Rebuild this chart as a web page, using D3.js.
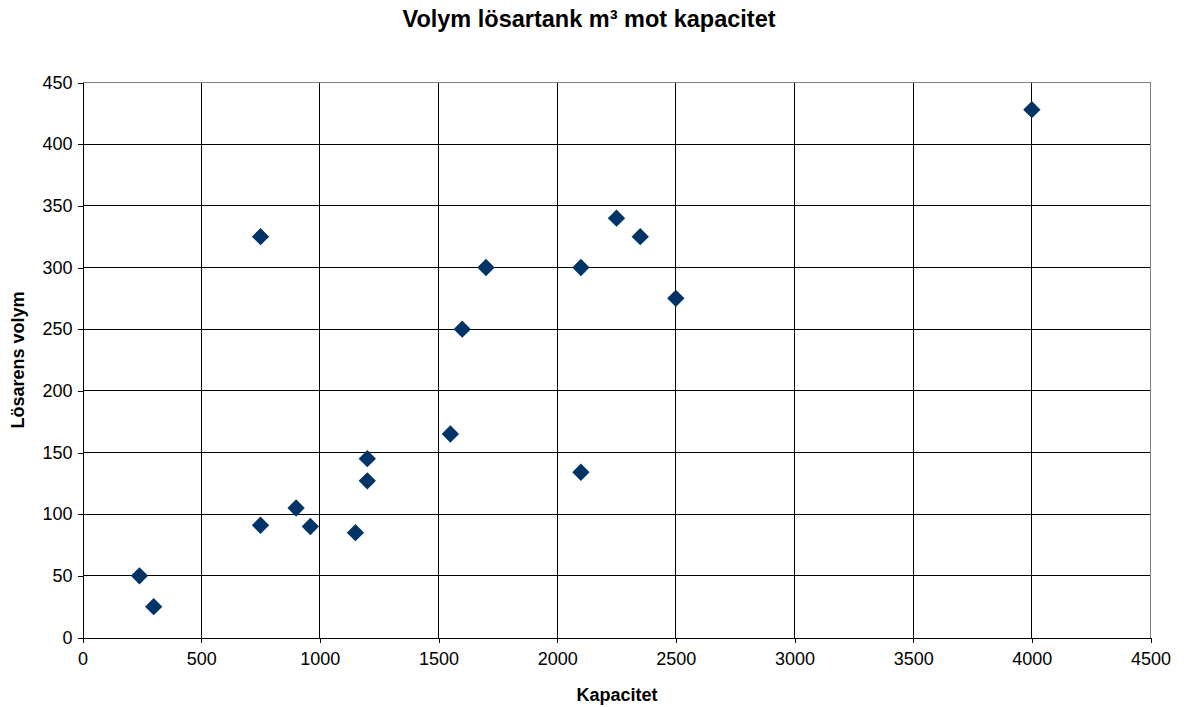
<!DOCTYPE html>
<html>
<head>
<meta charset="utf-8">
<script src="https://cdn.jsdelivr.net/npm/d3@7"></script>
<style>
  html, body { margin: 0; padding: 0; background: #fff; }
  svg { display: block; font-family: "Liberation Sans", Arial, sans-serif; }
</style>
</head>
<body>
<svg id="chart" width="1187" height="707"></svg>
<script>
// Capacity (x) and dissolver tank volume in m³ (y)
const kapacitet = [240, 300, 750, 750, 900, 960, 1150, 1200, 1200, 1550, 1600, 1700, 2100, 2100, 2250, 2350, 2500, 4000];
const volym     = [50,  25,  91,  325, 105, 90,  85,   127,  145,  165,  250,  300,  134,  300,  340,  325,  275,  428];
const xTicks = [0, 500, 1000, 1500, 2000, 2500, 3000, 3500, 4000, 4500];
const yTicks = [0, 50, 100, 150, 200, 250, 300, 350, 400, 450];

const titleText = "Volym lösartank m³ mot kapacitet";
const xTitle = "Kapacitet";
const yTitle = "Lösarens volym";

const svg = d3.select("#chart");
const plotLeft = 82.5, plotRight = 1150.5, plotTop = 82.5, plotBottom = 637.5;

const x = d3.scaleLinear().domain([0, 4500]).range([plotLeft, plotRight]);
const y = d3.scaleLinear().domain([0, 450]).range([plotBottom, plotTop]);

// gridlines
const grid = svg.append("g").attr("shape-rendering", "crispEdges");
grid.selectAll("line.h").data(yTicks.filter(d => d > 0 && d < 450)).join("line")
  .attr("class", "h")
  .attr("x1", plotLeft).attr("x2", plotRight)
  .attr("y1", d => y(d)).attr("y2", d => y(d))
  .attr("stroke", "#000").attr("stroke-width", 1);
grid.selectAll("line.v").data(xTicks.filter(d => d > 0 && d < 4500)).join("line")
  .attr("class", "v")
  .attr("y1", plotTop).attr("y2", plotBottom)
  .attr("x1", d => x(d)).attr("x2", d => x(d))
  .attr("stroke", "#000").attr("stroke-width", 1);

// plot frame (top and right edges)
grid.append("line").attr("x1", plotLeft).attr("x2", plotRight).attr("y1", plotTop).attr("y2", plotTop)
  .attr("stroke", "#808080").attr("stroke-width", 1);
grid.append("line").attr("x1", plotRight).attr("x2", plotRight).attr("y1", plotTop).attr("y2", plotBottom)
  .attr("stroke", "#808080").attr("stroke-width", 1);

// axes
const xAxis = d3.axisBottom(x).tickValues(xTicks).tickSize(5).tickPadding(10).tickFormat(d3.format("d"));
const yAxis = d3.axisLeft(y).tickValues(yTicks).tickSize(5).tickPadding(5).tickFormat(d3.format("d"));

const gx = svg.append("g").attr("transform", `translate(0,${plotBottom})`).call(xAxis);
const gy = svg.append("g").attr("transform", `translate(${plotLeft},0)`).call(yAxis);
[gx, gy].forEach(g => {
  g.attr("shape-rendering", "crispEdges");
  g.select(".domain").attr("stroke", "#000");
  g.selectAll(".tick line").attr("stroke", "#000");
  g.selectAll(".tick text").attr("fill", "#000")
    .style("font-family", "'Liberation Sans', Arial, sans-serif").style("font-size", "18px");
});

// markers
const diamond = d3.symbol().type(d3.symbolSquare).size(150);
svg.append("g").selectAll("path").data(kapacitet.map((k, i) => [k, volym[i]])).join("path")
  .attr("d", diamond)
  .attr("transform", d => `translate(${x(d[0])},${y(d[1])}) rotate(45)`)
  .attr("fill", "#003366");

// titles
svg.append("text").attr("x", 589).attr("y", 27).attr("text-anchor", "middle")
  .style("font-size", "23.5px").style("font-weight", "bold").text(titleText);
svg.append("text").attr("x", 617).attr("y", 701).attr("text-anchor", "middle")
  .style("font-size", "18px").style("font-weight", "bold").text(xTitle);
svg.append("text").attr("transform", `translate(24,${(plotTop + plotBottom) / 2}) rotate(-90)`)
  .attr("text-anchor", "middle")
  .style("font-size", "18px").style("font-weight", "bold").text(yTitle);
</script>
</body>
</html>
